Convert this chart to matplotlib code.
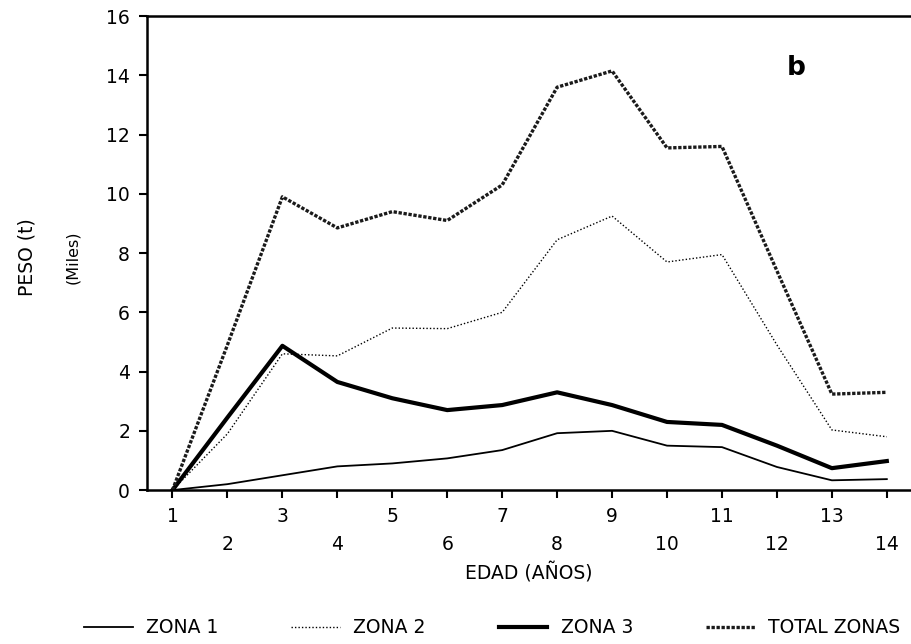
import matplotlib
matplotlib.use('Agg')
import matplotlib.pyplot as plt

edad = [1, 2, 3, 4, 5, 6, 7, 8, 9, 10, 11, 12, 13, 14]
zona1 = [0, 0.2, 0.5, 0.8, 0.9, 1.07, 1.35, 1.92, 2.0, 1.5, 1.45, 0.78, 0.33, 0.37]
zona2 = [0, 1.9, 4.6, 4.53, 5.47, 5.45, 6.0, 8.45, 9.25, 7.7, 7.95, 4.9, 2.03, 1.8]
zona3 = [0, 2.45, 4.87, 3.65, 3.1, 2.7, 2.87, 3.3, 2.87, 2.3, 2.2, 1.5, 0.74, 0.98]
total = [0, 4.9, 9.9, 8.85, 9.4, 9.1, 10.3, 13.6, 14.15, 11.55, 11.6, 7.4, 3.24, 3.3]
yticks = [0, 2, 4, 6, 8, 10, 12, 14, 16]

plt.rcParams['font.family'] = ['DejaVu Sans']

fig = plt.figure(figsize=(9.11, 6.44), dpi=100)
ax = fig.add_axes([0.161, 0.239, 0.839, 0.736])

ax.plot(edad, zona1, color='black', lw=1.3, label='ZONA 1')
ax.plot(edad, zona2, color='black', lw=1.0, linestyle=(0, (1, 1.5)), label='ZONA 2')
ax.plot(edad, zona3, color='black', lw=3.0, label='ZONA 3')
ax.plot(edad, total, color='#1a1a1a', lw=2.4, linestyle=(0, (1.0, 0.5)), label='TOTAL ZONAS')

ax.set_xlim(0.53, 14.44)
ax.set_ylim(0, 16)
ax.set_yticks(yticks)
ax.set_yticklabels([str(v) for v in yticks], fontsize=13.5)
ax.set_xticks(edad)
ax.set_xticklabels([str(e) if e % 2 == 1 else '\n' + str(e) for e in edad], fontsize=13.5,
                   linespacing=1.6)

ax.spines['right'].set_visible(False)
for s in ['left', 'bottom', 'top']:
    ax.spines[s].set_linewidth(1.8)
ax.tick_params(axis='both', direction='out', length=6, width=1.5, pad=6)

ax.set_xlabel('EDAD (AÑOS)', fontsize=13.5, labelpad=6)
fig.text(0.03, 0.60, 'PESO (t)', rotation=90, fontsize=13.5, ha='center', va='center')
fig.text(0.08, 0.60, '(Miles)', rotation=90, fontsize=11.5, ha='center', va='center')

ax.text(12.18, 14.0, 'b', fontsize=19, fontweight='bold', va='baseline')

fig.legend(loc='center', bbox_to_anchor=(0.54, 0.025), ncol=4, frameon=False,
           fontsize=13.5, handlelength=2.6, columnspacing=3.9, handletextpad=0.7)

plt.savefig('out.png', dpi=100)
plt.close()
